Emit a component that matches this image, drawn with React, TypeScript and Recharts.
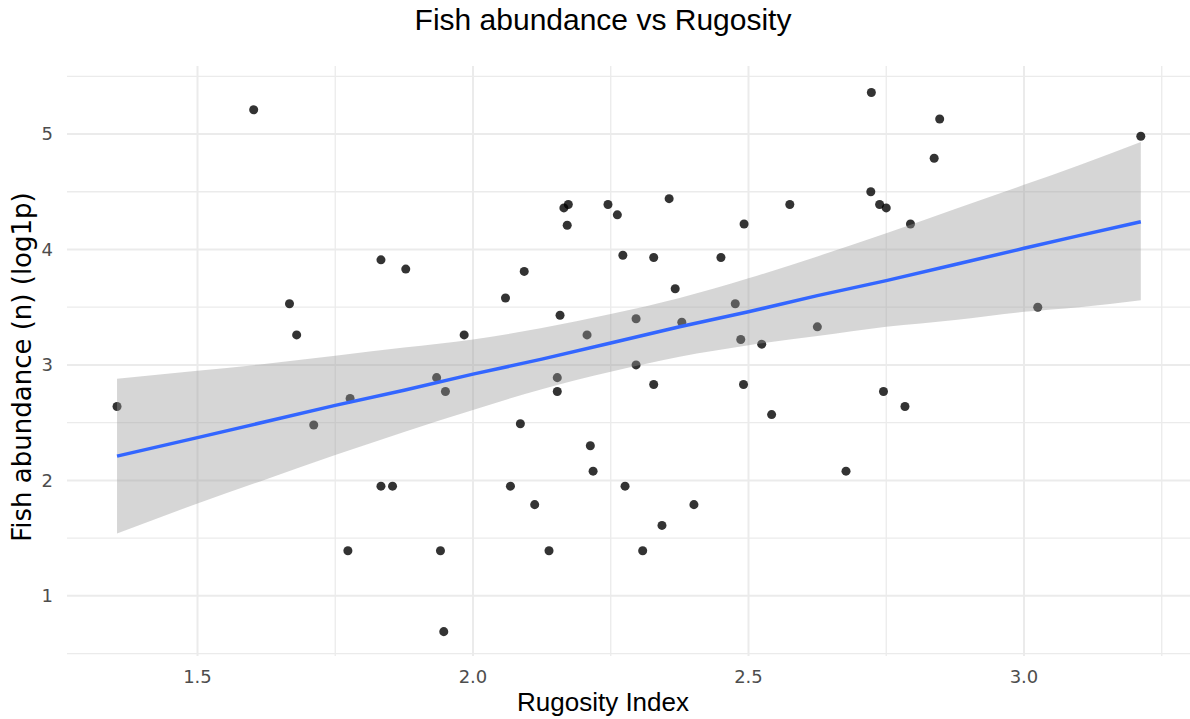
import React from 'react';
import { ComposedChart, Scatter, Area, Line, XAxis, YAxis, ReferenceLine } from 'recharts';

// observed sites: rugosity index and log1p fish abundance
const rugosity = [
  1.354, 1.602, 1.667, 1.68, 1.711, 1.777, 1.773, 1.833, 1.833, 1.854, 1.878,
  1.934, 1.95, 1.941, 1.947, 1.984, 2.059, 2.093, 2.086, 2.068, 2.112, 2.138,
  2.153, 2.153, 2.158, 2.165, 2.173, 2.171, 2.207, 2.213, 2.218, 2.245, 2.262,
  2.272, 2.276, 2.296, 2.296, 2.308, 2.328, 2.328, 2.343, 2.356, 2.367, 2.379,
  2.401, 2.45, 2.476, 2.486, 2.491, 2.492, 2.524, 2.542, 2.575, 2.625, 2.677,
  2.722, 2.723, 2.738, 2.745, 2.75, 2.784, 2.794, 2.837, 2.847, 3.025, 3.212,
];
const abundance = [
  2.64, 5.21, 3.53, 3.26, 2.48, 2.71, 1.39, 3.91, 1.95, 1.95, 3.83,
  2.89, 2.77, 1.39, 0.69, 3.26, 3.58, 3.81, 2.49, 1.95, 1.79, 1.39,
  2.89, 2.77, 3.43, 4.36, 4.39, 4.21, 3.26, 2.3, 2.08, 4.39, 4.3,
  3.95, 1.95, 3.4, 3.0, 1.39, 3.93, 2.83, 1.61, 4.44, 3.66, 3.37,
  1.79, 3.93, 3.53, 3.22, 2.83, 4.22, 3.18, 2.57, 4.39, 3.33, 2.08,
  4.5, 5.36, 4.39, 2.77, 4.36, 2.64, 4.22, 4.79, 5.13, 3.5, 4.98,
];

// linear fit and its 95% band, read along the x range
const bandX = [1.354, 1.5, 1.625, 1.75, 1.875, 2.0, 2.125, 2.25, 2.375, 2.5, 2.625, 2.75, 2.875, 3.0, 3.1, 3.212];
const fitY = [2.21, 2.37, 2.51, 2.65, 2.78, 2.92, 3.05, 3.19, 3.33, 3.46, 3.6, 3.73, 3.87, 4.01, 4.12, 4.24];
const bandLow = [1.54, 1.8, 2.01, 2.22, 2.42, 2.61, 2.79, 2.94, 3.07, 3.17, 3.25, 3.33, 3.39, 3.46, 3.5, 3.56];
const bandHigh = [2.88, 2.95, 3.01, 3.08, 3.15, 3.22, 3.32, 3.44, 3.58, 3.75, 3.94, 4.14, 4.35, 4.56, 4.73, 4.93];

const xTicks = [1.5, 1.75, 2, 2.25, 2.5, 2.75, 3, 3.25];
const yTicks = [0.5, 1, 1.5, 2, 2.5, 3, 3.5, 4, 4.5, 5, 5.5];

const points = rugosity.map((x, i) => ({ x, y: abundance[i] }));
const bandData = bandX.map((x, i) => ({ x, fit: fitY[i], band: [bandLow[i], bandHigh[i]] }));

const isMajorX = (v: number) => Math.round(v * 100) % 50 === 0;
const isMajorY = (v: number) => Number.isInteger(v);

const tickStyle = { fill: '#4d4d4d', fontSize: 18, fontFamily: 'DejaVu Sans, sans-serif' };

export default function App() {
  return (
    <div style={{ position: 'absolute', left: 0, top: 0, width: 1190, height: 719, background: '#fff' }}>
      <div
        style={{
          position: 'absolute', left: 0, width: 1206, top: 3, textAlign: 'center',
          fontFamily: 'Liberation Sans, Arial, sans-serif', fontSize: 30, color: '#000',
        }}
      >
        Fish abundance vs Rugosity
      </div>
      <ComposedChart width={1190} height={719} margin={{ top: 66, right: 0, bottom: 0, left: 7 }}>
        {yTicks.map((v) => (
          <ReferenceLine key={'h' + v} y={v} stroke="#ebebeb" strokeWidth={isMajorY(v) ? 2 : 1.3} zIndex={0} />
        ))}
        {xTicks.map((v) => (
          <ReferenceLine key={'v' + v} x={v} stroke="#ebebeb" strokeWidth={isMajorX(v) ? 2 : 1.3} zIndex={0} />
        ))}
        <XAxis
          dataKey="x"
          type="number"
          domain={[1.2632, 3.3013]}
          allowDataOverflow
          ticks={xTicks}
          interval={0}
          height={63}
          axisLine={false}
          tickLine={false}
          tickSize={0}
          tickMargin={14}
          tick={tickStyle}
          tickFormatter={(v: number) => (isMajorX(v) ? v.toFixed(1) : '')}
        />
        <YAxis
          type="number"
          domain={[0.479, 5.589]}
          allowDataOverflow
          ticks={yTicks}
          interval={0}
          width={60}
          axisLine={false}
          tickLine={false}
          tickSize={0}
          tickMargin={14}
          tick={tickStyle}
          tickFormatter={(v: number) => (isMajorY(v) ? String(v) : '')}
        />
        <Scatter
          data={points}
          dataKey="y"
          fill="#000"
          fillOpacity={0.8}
          shape="circle"
          zIndex={100}
          isAnimationActive={false}
        />
        <Area
          data={bandData}
          dataKey="band"
          type="monotone"
          stroke="none"
          fill="#999999"
          fillOpacity={0.4}
          zIndex={200}
          isAnimationActive={false}
        />
        <Line
          data={bandData}
          dataKey="fit"
          type="linear"
          stroke="#3366ff"
          strokeWidth={3.5}
          dot={false}
          activeDot={false}
          zIndex={300}
          isAnimationActive={false}
        />
      </ComposedChart>
      <div
        style={{
          position: 'absolute', left: 0, width: 1206, top: 687, textAlign: 'center',
          fontFamily: 'Liberation Sans, Arial, sans-serif', fontSize: 26, color: '#000',
        }}
      >
        Rugosity Index
      </div>
      <div style={{ position: 'absolute', left: 22, top: 367, width: 0, height: 0 }}>
        <div
          style={{
            position: 'absolute', left: 0, top: 0, transform: 'translate(-50%, -50%) rotate(-90deg)',
            whiteSpace: 'nowrap', fontFamily: 'DejaVu Sans, sans-serif', fontSize: 26, color: '#000',
          }}
        >
          Fish abundance (n) (log1p)
        </div>
      </div>
    </div>
  );
}
